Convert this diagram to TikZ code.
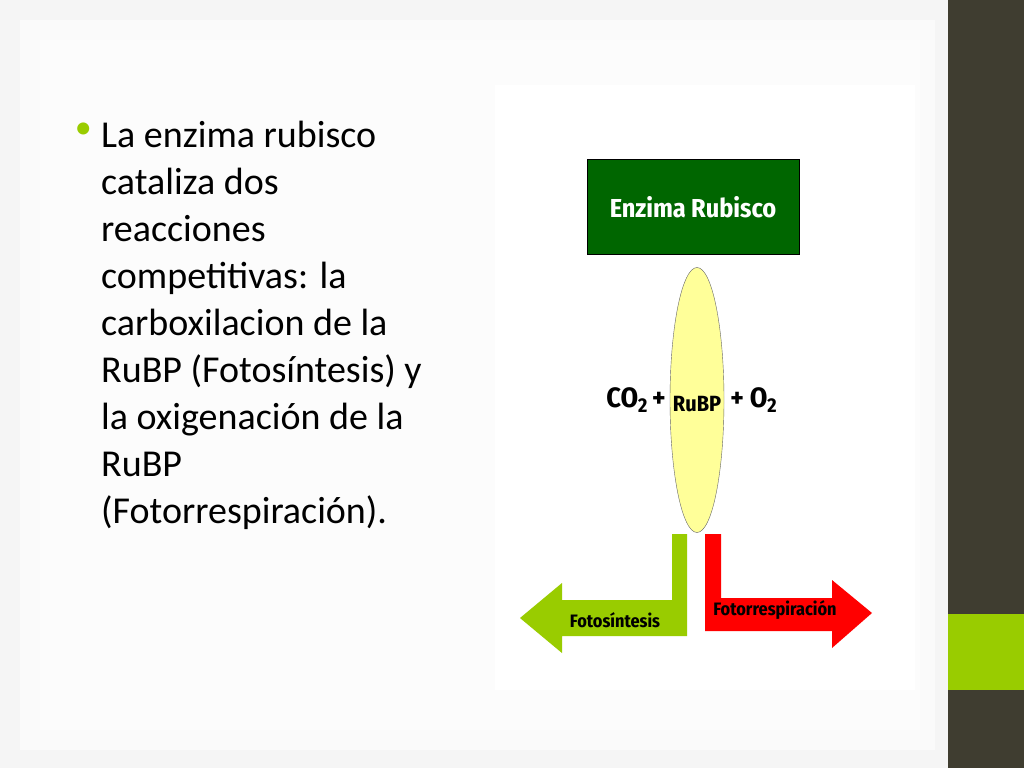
\documentclass[tikz,border=0pt]{standalone}
\usepackage{fontspec}
\setmainfont{Carlito}
\newfontfamily\labelfont{Fira Sans Condensed}
\usetikzlibrary{positioning,shapes.geometric}
\definecolor{barbrown}{HTML}{3F3D30}
\definecolor{leafgreen}{HTML}{99CC00}
\definecolor{boxgreen}{HTML}{006600}
\definecolor{paleyellow}{HTML}{FFFF99}
\newcommand{\lowtwo}{\raisebox{-0.35ex}{\fontsize{20}{22}\selectfont 2}}
\begin{document}
\begin{tikzpicture}[x=1pt,y=-1pt]
	\tikzstyle{lbl} = [font=\labelfont\bfseries\fontsize{28}{30}\selectfont, inner sep=0pt]
	\tikzstyle{small} = [font=\labelfont\bfseries\fontsize{18}{20}\selectfont, inner sep=0pt]
	
	\useasboundingbox (0,0) rectangle (1024,768);
	\fill[black!4] (0,0) rectangle (948,768);
	\fill[black!2] (20,20) rectangle (935,750);
	\fill[black!1] (40,40) rectangle (920,730);
	\fill[white] (495,85) rectangle (915,690);
	\fill[barbrown] (948,0) rectangle (1024,768);
	\fill[leafgreen] (948,614) rectangle (1024,690);
	
	\node[anchor=north west, align=left, font=\fontsize{38}{47}\selectfont, inner sep=0pt] (txt) at (101,121)
		{La enzima rubisco\\ cataliza dos\\ reacciones\\ competitivas: la\\ carboxilacion de la\\ RuBP (Fotosíntesis) y\\ la oxigenación de la\\ RuBP\\ (Fotorrespiración).};
	\node[text=leafgreen, font=\fontsize{34}{47}\selectfont, anchor=north east, inner sep=0pt] (dot) at (92,123) {•};
	
	\node[draw=black, fill=boxgreen, text=white, minimum width=212, minimum height=95, font=\labelfont\bfseries\fontsize{26}{28}\selectfont] (enz) at (693,207) {Enzima Rubisco};
	\node[draw=black!60, fill=paleyellow, ellipse, minimum width=54, minimum height=265, inner sep=0pt] (rubp) at (697,400) {};
	\node[lbl, font=\labelfont\bfseries\fontsize{22}{24}\selectfont] (rubptxt) at (697,404) {RuBP};
	\node[lbl, left=4 of rubp] (co2) {CO\lowtwo\,+};
	\node[lbl, right=6 of rubp] (o2) {+ O\lowtwo};
	
	\fill[leafgreen] (672,534) -- (687,534) -- (687,636) -- (562,636) -- (562,653) -- (520,618) -- (562,583) -- (562,600) -- (672,600) -- cycle;
	\fill[red] (705,534) -- (721,534) -- (721,598) -- (832,598) -- (832,580) -- (872,613) -- (832,648) -- (832,631) -- (705,631) -- cycle;
	\node[small] (foto) at (615,620) {Fotosíntesis};
	\node[small] (fotor) at (775,610) {Fotorrespiración};
\end{tikzpicture}
\end{document}
